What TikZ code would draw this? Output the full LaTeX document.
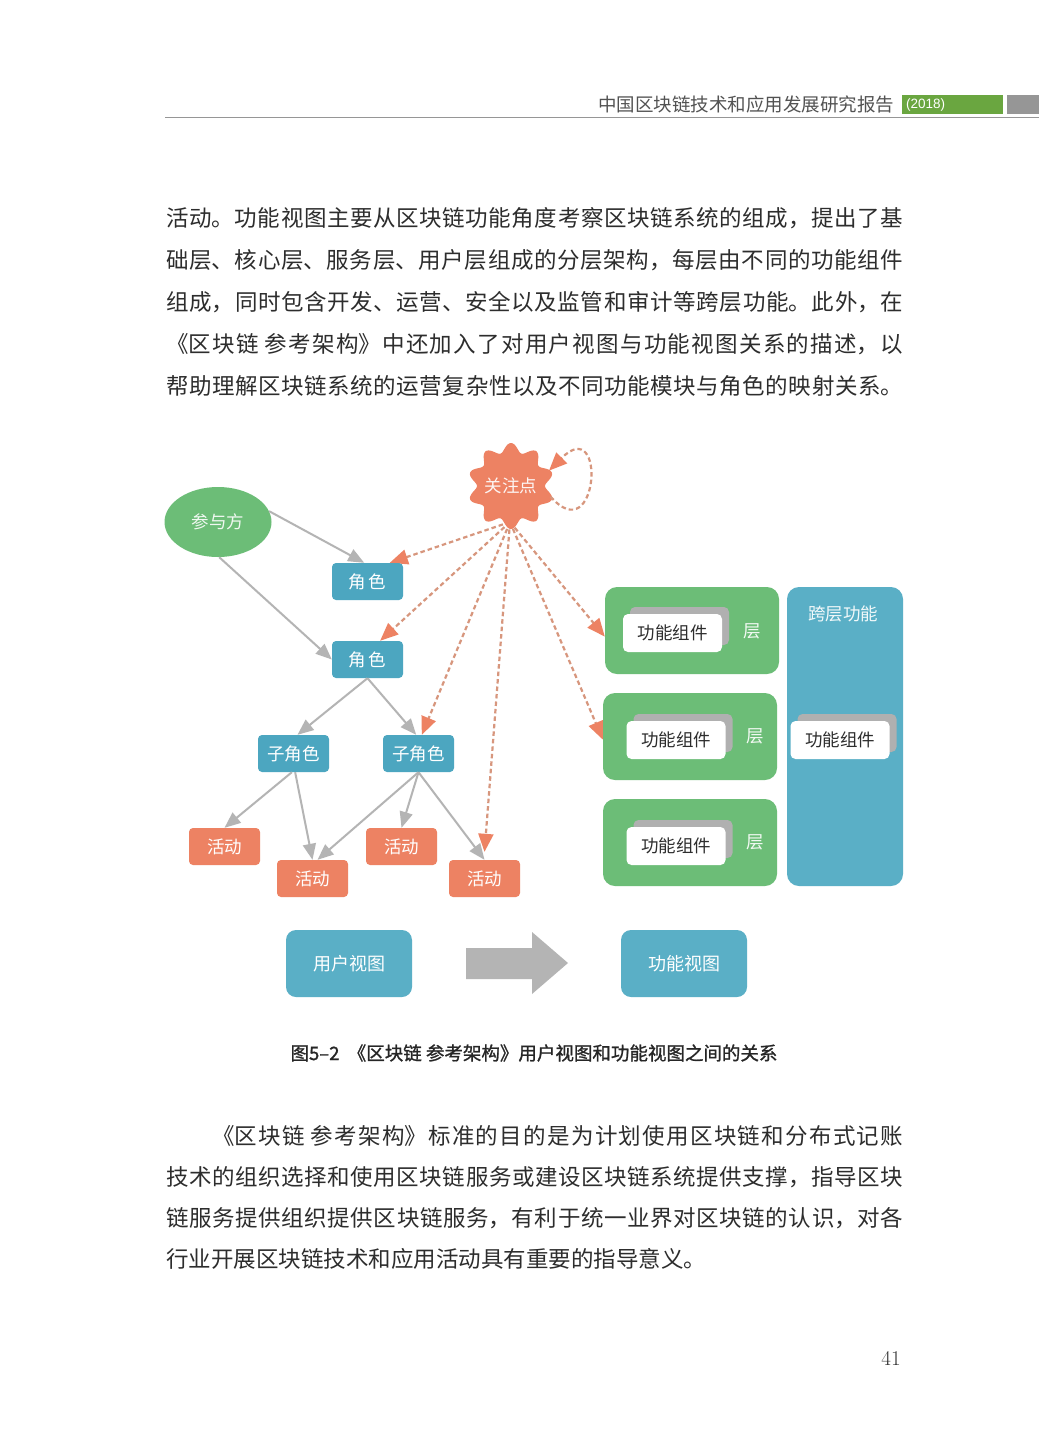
\documentclass[tikz,border=0pt]{standalone}
\usepackage{fontspec}
\newfontfamily\cjk{Noto Sans CJK SC}
\newfontfamily\cjkbold[FakeBold=1.2]{Noto Sans CJK SC}
\newfontfamily\lsans{Liberation Sans}
\usetikzlibrary{arrows.meta,shapes.geometric}
\XeTeXlinebreaklocale "zh"
\XeTeXlinebreakskip=0pt plus 4pt
\definecolor{lgreen}{RGB}{108,189,119}
\definecolor{teal}{RGB}{76,166,192}
\definecolor{ltealc}{RGB}{90,175,198}
\definecolor{orangec}{RGB}{237,130,99}
\definecolor{dashc}{RGB}{215,150,125}
\definecolor{greyc}{RGB}{180,180,180}
\definecolor{shadowc}{RGB}{176,176,176}
\definecolor{bodytext}{RGB}{45,45,45}
\definecolor{hdrgreen}{RGB}{106,166,64}
\definecolor{hdrgrey}{RGB}{150,150,150}
\newcommand\jline[2]{\parbox{#1}{\parfillskip=0pt\relax #2}}
\pgfdeclarelayer{bg}
\pgfdeclarelayer{back}
\pgfsetlayers{bg,back,main}
\begin{document}
\begin{tikzpicture}[x=1pt,y=-1pt,
  body/.style={anchor=west,inner sep=0pt,text=bodytext,font=\cjk\fontsize{22.5}{26}\selectfont},
  bluebox/.style={fill=teal,rounded corners=4pt,minimum width=71pt,minimum height=37pt,inner sep=0pt,text=white,font=\cjk\fontsize{17.5}{17.5}\selectfont},
  actbox/.style={fill=orangec,rounded corners=4pt,minimum width=71pt,minimum height=37pt,inner sep=0pt,text=white,font=\cjk\fontsize{17.5}{17.5}\selectfont},
  layerbox/.style={fill=lgreen,rounded corners=12pt,minimum width=174pt,minimum height=87pt,inner sep=0pt},
  compbox/.style={fill=white,rounded corners=5pt,minimum width=99pt,minimum height=38pt,inner sep=0pt,text=bodytext,font=\cjk\fontsize{17.5}{17.5}\selectfont},
  shadowbox/.style={fill=shadowc,rounded corners=5pt,minimum width=99pt,minimum height=38pt,inner sep=0pt},
  viewbox/.style={fill=ltealc,rounded corners=10pt,minimum width=126pt,minimum height=67pt,inner sep=0pt,text=white,font=\cjk\fontsize{18}{18}\selectfont},
  lbl/.style={text=white!92!lgreen,font=\cjk\fontsize{17.5}{17.5}\selectfont,inner sep=0pt},
  garrow/.style={draw=greyc,line width=2pt,-{Triangle[length=16pt,width=13pt]}},
  darrow/.style={draw=dashc,line width=2.2pt,dash pattern=on 4.5pt off 3pt,-{Triangle[length=18pt,width=15pt,color=orangec]}}
]
\useasboundingbox (0,0) rectangle (1039,1452);
\begin{pgfonlayer}{bg}
\fill[white] (0,0) rectangle (1039,1452);
\end{pgfonlayer}

% header
\node[anchor=west,inner sep=0pt,text=black!68,font=\cjk\fontsize{18.5}{18.5}\selectfont] (hdr) at (598,104) {中国区块链技术和应用发展研究报告};
\node[fill=hdrgreen,minimum width=101pt,minimum height=19pt,inner sep=0pt] (hg) at (952.5,104.5) {};
\node[anchor=west,inner sep=0pt,text=white,font=\lsans\fontsize{13.5}{13.5}\selectfont] (yr) at (906,104.5) {(2018)};
\node[fill=hdrgrey,minimum width=32pt,minimum height=19pt,inner sep=0pt] (hgr) at (1023,104.5) {};
\draw[hdrgrey,line width=1pt] (165,117.5) coordinate (hl1) -- (1039,117.5) coordinate (hl2);

% top paragraph
\node[body] (p1) at (166,218) {\jline{737pt}{活动。功能视图主要从区块链功能角度考察区块链系统的组成，提出了基}};
\node[body] (p2) at (166,260) {\jline{737pt}{础层、核心层、服务层、用户层组成的分层架构，每层由不同的功能组件}};
\node[body] (p3) at (166,302) {\jline{737pt}{组成，同时包含开发、运营、安全以及监管和审计等跨层功能。此外，在}};
\node[body] (p4) at (166,344) {\jline{737pt}{《区块链 参考架构》中还加入了对用户视图与功能视图关系的描述，以}};
\node[body] (p5) at (166,386) {\jline{737pt}{帮助理解区块链系统的运营复杂性以及不同功能模块与角色的映射关系。}};

% diagram nodes
\node[ellipse,fill=lgreen,minimum width=107pt,minimum height=70pt,inner sep=0pt,text=white!90!lgreen,font=\cjk\fontsize{17.5}{17.5}\selectfont] (party) at (218,522) {参与方};
\node[bluebox] (role1) at (367.5,581.5) {角\hspace{3pt}色};
\node[bluebox] (role2) at (367.5,659.5) {角\hspace{3pt}色};
\node[bluebox] (sub1) at (293.5,753.5) {子角色};
\node[bluebox] (sub2) at (418.5,753.5) {子角色};
\node[actbox] (actA) at (224.5,846.5) {活动};
\node[actbox] (actB) at (312.5,878.5) {活动};
\node[actbox] (actC) at (401.5,846.5) {活动};
\node[actbox] (actD) at (484.5,878.5) {活动};

\node[layerbox] (L1) at (692,630.5) {};
\node[layerbox] (L2) at (690,736.5) {};
\node[layerbox] (L3) at (690,842.5) {};
\node[fill=ltealc,rounded corners=12pt,minimum width=116pt,minimum height=299pt,inner sep=0pt] (cross) at (845,736.5) {};

\node[shadowbox] (s1) at (679.5,626) {};
\node[compbox] (c1) at (672.5,633) {功能组件};
\node[shadowbox] (s2) at (683,733) {};
\node[compbox] (c2) at (676,740) {功能组件};
\node[shadowbox] (s3) at (683,839) {};
\node[compbox] (c3) at (676,846) {功能组件};
\node[shadowbox] (s4) at (847,733) {};
\node[compbox] (c4) at (840,740) {功能组件};

\node[lbl] (y1) at (752,631) {层};
\node[lbl] (y2) at (755,736) {层};
\node[lbl] (y3) at (755,842) {层};
\node[text=white!92!ltealc,font=\cjk\fontsize{17.5}{17.5}\selectfont,inner sep=0pt] (crt) at (843,614) {跨层功能};

% burst
\fill[orangec] plot[domain=0:358,samples=180,smooth cycle] ({511+(38.5-4.5*cos(10*\x))*cos(\x)},{486+(38.5-4.5*cos(10*\x))*sin(\x)});
\node[circle,minimum size=82pt,inner sep=0pt,outer sep=0pt,text=white!92!orangec,font=\cjk\fontsize{17.5}{17.5}\selectfont] (burst) at (511,486) {关注点};
\coordinate (fan) at (510,522);

% grey connectors
\draw[garrow] (party.12) -- (role1.100);
\draw[garrow] (party.-88) -- (role2.west);
\draw[garrow] (role2.south) -- (sub1.78);
\draw[garrow] (role2.south) -- (sub2.97);
\draw[garrow] (sub1.-95) -- (actA.north);
\draw[garrow] (sub1.-85) -- (actB.north);
\draw[garrow] (sub2.south) -- (actB.75);
\draw[garrow] (sub2.south) -- (actC.north);
\draw[garrow] (sub2.south) -- (actD.north);

% orange dashed connectors
\begin{pgfonlayer}{back}
\draw[darrow] (fan) -- (role1.40);
\draw[darrow] (fan) -- (role2.56);
\draw[darrow] (fan) -- (sub2.80);
\draw[darrow] (fan) -- ([yshift=8pt]actD.north);
\draw[darrow] (fan) -- (L1.184);
\draw[darrow] (fan) -- (L2.182);
\end{pgfonlayer}
\draw[darrow] (burst.-15) .. controls +(48,55) and +(58,-58) .. (burst.22);

% bottom views
\node[viewbox] (uv) at (349,963.5) {用户视图};
\node[viewbox] (fv) at (684,963.5) {功能视图};
\fill[greyc] (466,948) -- (532,948) -- (532,932) -- (568,963) -- (532,994) -- (532,979) -- (466,979) -- cycle;

% caption
\node[inner sep=0pt,text=black!85,font=\cjkbold\fontsize{18.5}{18.5}\selectfont] (cap) at (534,1053) {图5–2\ \ 《区块链 参考架构》用户视图和功能视图之间的关系};

% bottom paragraph
\node[body] (q1) at (212,1136) {\jline{691pt}{《区块链 参考架构》标准的目的是为计划使用区块链和分布式记账}};
\node[body] (q2) at (166,1177) {\jline{737pt}{技术的组织选择和使用区块链服务或建设区块链系统提供支撑，指导区块}};
\node[body] (q3) at (166,1218) {\jline{737pt}{链服务提供组织提供区块链服务，有利于统一业界对区块链的认识，对各}};
\node[body] (q4) at (166,1259) {行业开展区块链技术和应用活动具有重要的指导意义。};

\node[inner sep=0pt,text=black!80,font=\fontsize{21}{21}\selectfont] (pg) at (891,1358) {41};
\end{tikzpicture}
\end{document}
